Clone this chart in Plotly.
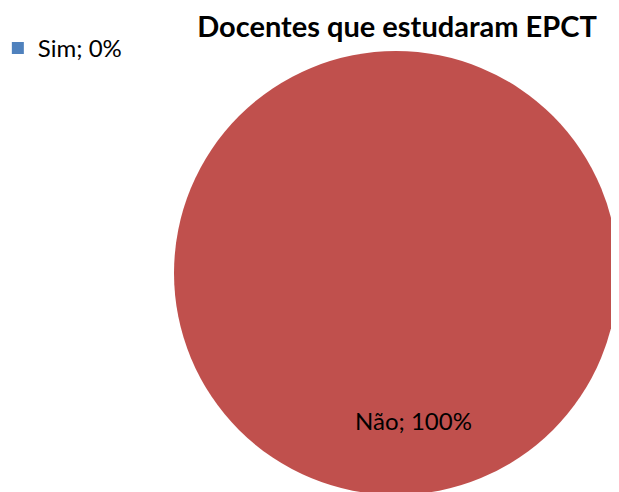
import plotly.graph_objects as go

categories = ["Sim", "Não"]
values = [0, 100]
colors = ["#4F81BD", "#C0504D"]
title = "Docentes que estudaram EPCT"

total = sum(values)
labels = [f"{c}; {round(v / total * 100)}%" for c, v in zip(categories, values)]

W, H = 619, 492

fig = go.Figure()
fig.add_trace(go.Pie(
    labels=labels, values=values, sort=False, direction="clockwise",
    marker=dict(colors=colors), textinfo="none", hoverinfo="label",
    showlegend=False,
    domain=dict(x=[166 / W, 610 / W], y=[1 - 487 / H, 1 - 43 / H]),
))
# legend entry for the zero-valued slice
fig.add_trace(go.Scatter(
    x=[None], y=[None], mode="markers", name=labels[0],
    marker=dict(symbol="square", size=12, color=colors[0]),
    showlegend=True,
))
fig.add_annotation(
    text=labels[1], x=405 / W, y=1 - 412 / H, xref="paper", yref="paper",
    xanchor="center", yanchor="middle",
    showarrow=False, font=dict(family="Lato", size=24, color="#000000"),
)
fig.update_layout(
    width=W, height=H,
    margin=dict(l=0, r=0, t=0, b=0, autoexpand=False),
    paper_bgcolor="white", plot_bgcolor="white",
    title=dict(text=f"<b>{title}</b>", x=389 / W, xanchor="center",
               y=1 - 19 / H, yanchor="middle",
               font=dict(family="Lato", size=29, color="#000000")),
    xaxis=dict(visible=False), yaxis=dict(visible=False),
    legend=dict(x=-0.0164, y=1 - 18 / H, xanchor="left", yanchor="top",
                font=dict(family="Lato", size=24, color="#000000"),
                bgcolor="rgba(0,0,0,0)", itemwidth=30),
)
fig.write_html("out.html")
